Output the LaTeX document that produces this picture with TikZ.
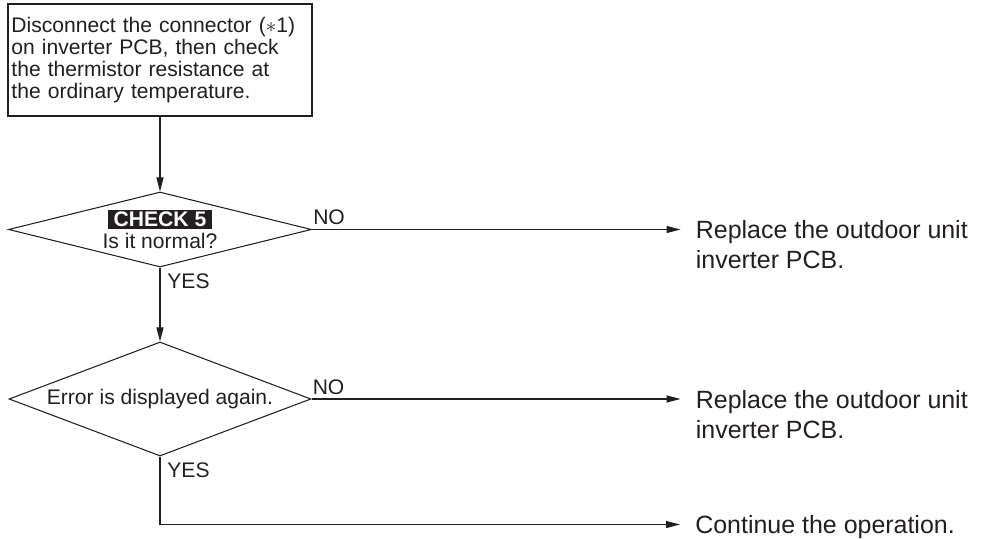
\documentclass[tikz,border=0pt]{standalone}
\usepackage{fontspec}
\setmainfont{Liberation Sans}
\usepackage{xcolor}
\usepackage{tikz}
\usetikzlibrary{shapes.geometric, arrows.meta, positioning}
\definecolor{ink}{RGB}{35,31,32}
\newcommand{\checktag}[1]{{\setlength{\fboxsep}{1pt}\colorbox{ink}{\hspace{2pt}\textcolor{white}{\bfseries #1}\hspace{2pt}}}}
\tikzset{
    startbox/.style={rectangle, minimum width=6.08cm, minimum height=2.24cm, text width=5.94cm, inner xsep=0.07cm, align=left, draw=ink, line width=0.6pt, font=\fontsize{12}{12.5}\selectfont},
    decision/.style={diamond, inner sep=0pt, align=center, draw=ink, line width=0.6pt, font=\fontsize{12}{12.5}\selectfont},
    result/.style={anchor=north west, inner xsep=0.3cm, inner ysep=0pt, align=left, font=\fontsize{14.2}{17}\selectfont},
    answer/.style={inner xsep=0.5pt, inner ysep=2.5pt, font=\fontsize{12}{12}\selectfont},
    arrow/.style={line width=0.6pt, draw=ink, ->, >={Triangle[length=2.8mm, width=1.4mm]}}
}
\begin{document}
\begin{tikzpicture}[node distance=3.39cm, text=ink]
    \useasboundingbox (-3.2,1.2) rectangle (16.42,-9.58);
    \node (disc) [startbox] {Disconnect the connector ($\ast$1)\\on inverter PCB, then check\\the thermistor resistance at\\the ordinary temperature.};
    \node (chk5) [decision, below of=disc, aspect=4, minimum width=6.06cm, minimum height=1.5cm] {\checktag{CHECK 5}\\Is it normal?};
    \node (again) [decision, below of=chk5, aspect=2.6, minimum width=6.04cm, minimum height=2.28cm] {Error is displayed again.};
    \node (repl1) [result] at ([xshift=7.37cm, yshift=0.18cm]chk5.east) {Replace the outdoor unit\\inverter PCB.};
    \node (repl2) [result] at ([xshift=7.38cm, yshift=0.18cm]again.east) {Replace the outdoor unit\\inverter PCB.};
    \node (cont) [result] at ([xshift=10.4cm, yshift=-1.18cm]again.south) {Continue the operation.};
    \node (no1) [answer, anchor=south west] at (chk5.east) {NO};
    \node (yes1) [answer, anchor=north west, inner xsep=4pt, inner ysep=3.2pt] at (chk5.south) {YES};
    \node (no2) [answer, anchor=south west] at (again.east) {NO};
    \node (yes2) [answer, anchor=north west, inner xsep=4pt, inner ysep=3.2pt] at (again.south) {YES};

    \draw [arrow] (disc) -- (chk5);
    \draw [arrow] (chk5) -- (again);
    \draw [arrow] (chk5.east) -- (chk5.east -| repl1.west);
    \draw [arrow] (again.east) -- (again.east -| repl2.west);
    \draw [arrow] (again.south) |- ([yshift=-0.18cm]cont.north west);
\end{tikzpicture}
\end{document}
